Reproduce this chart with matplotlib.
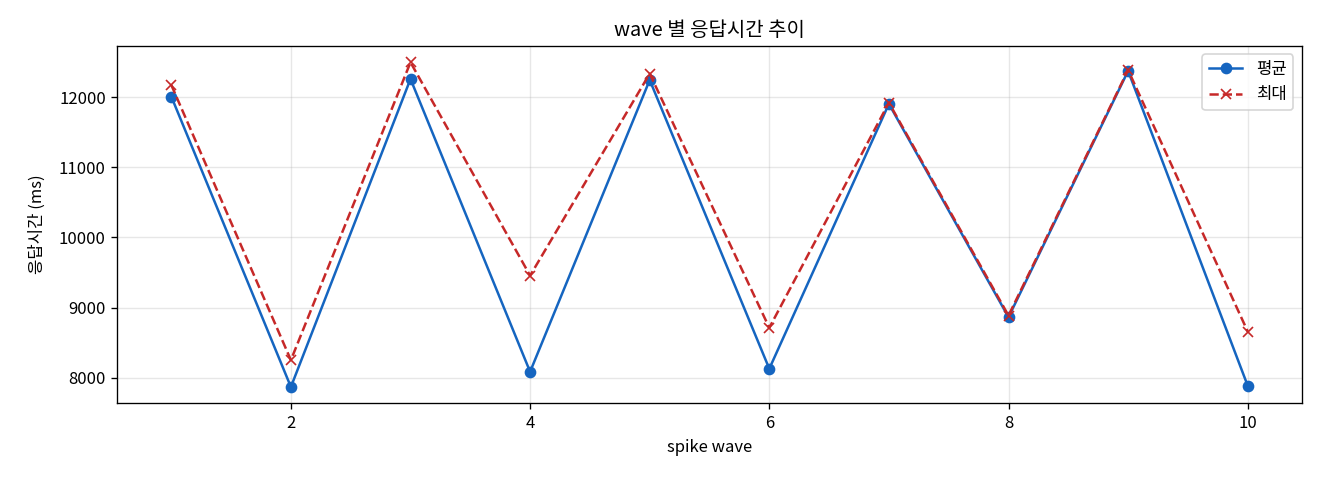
import matplotlib
matplotlib.use("Agg")
import matplotlib.pyplot as plt

plt.rcParams["font.family"] = ["Noto Sans CJK KR", "DejaVu Sans"]
plt.rcParams["axes.unicode_minus"] = False

waves = [1, 2, 3, 4, 5, 6, 7, 8, 9, 10]
avg_ms = [12010, 7868, 12260, 8085, 12245, 8128, 11905, 8863, 12375, 7886]
max_ms = [12175, 8251, 12498, 9456, 12336, 8712, 11922, 8886, 12388, 8659]

fig, ax = plt.subplots(figsize=(11, 4), dpi=120)
ax.plot(waves, avg_ms, marker="o", color="#1565C0", label="평균")
ax.plot(waves, max_ms, marker="x", linestyle="--", color="#C62828", label="최대")
ax.set_title("wave 별 응답시간 추이")
ax.set_xlabel("spike wave")
ax.set_ylabel("응답시간 (ms)", labelpad=8)
ax.grid(True, alpha=0.3)
ax.legend(loc="upper right")
# 여백은 원본 이미지에 맞춤
fig.subplots_adjust(left=0.089, right=0.986, top=0.904, bottom=0.160)
fig.savefig("out.png")
